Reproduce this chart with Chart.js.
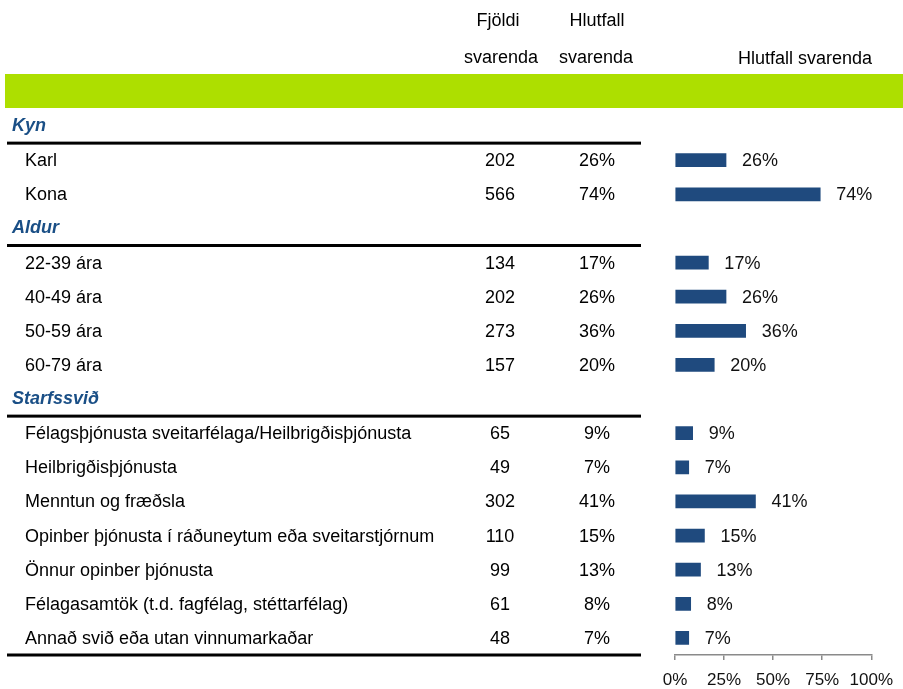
<!DOCTYPE html>
<html>
<head>
<meta charset="utf-8">
<script src="https://cdn.jsdelivr.net/npm/chart.js@4.4.0/dist/chart.umd.min.js"></script>
<style>
  body { margin: 0; background: #fff; }
  #wrap { width: 903px; height: 689px; }
</style>
</head>
<body>
<div id="wrap"><canvas id="chart" width="903" height="689"></canvas></div>
<script>
const rowLabels = [
  'Kyn', 'Karl', 'Kona',
  'Aldur', '22-39 ára', '40-49 ára', '50-59 ára', '60-79 ára',
  'Starfssvið',
  'Félagsþjónusta sveitarfélaga/Heilbrigðisþjónusta',
  'Heilbrigðisþjónusta',
  'Menntun og fræðsla',
  'Opinber þjónusta í ráðuneytum eða sveitarstjórnum',
  'Önnur opinber þjónusta',
  'Félagasamtök (t.d. fagfélag, stéttarfélag)',
  'Annað svið eða utan vinnumarkaðar'
];
const groupHeaders = ['Kyn', 'Aldur', 'Starfssvið'];
const counts = [null, 202, 566, null, 134, 202, 273, 157, null, 65, 49, 302, 110, 99, 61, 48];
const shares = [null, 26, 74, null, 17, 26, 36, 20, null, 9, 7, 41, 15, 13, 8, 7];
const axisTicks = [0, 25, 50, 75, 100];
const colHeaders = [['Fjöldi', 'svarenda'], ['Hlutfall', 'svarenda']];
const chartTitle = 'Hlutfall svarenda';

const FONT = "'Liberation Sans', Arial, sans-serif";
const BAR = '#1F4A7E';
const HEAD_BLUE = '#1A4F86';

// table on the left, green band, header lines
const tablePlugin = {
  id: 'table',
  beforeDraw(chart) {
    const ctx = chart.ctx;
    ctx.save();
    ctx.fillStyle = '#ADDF00';
    ctx.fillRect(5, 74, 898, 34);
    ctx.restore();
  },
  afterDraw(chart) {
    const ctx = chart.ctx;
    const y = chart.scales.y;
    const half = (y.getPixelForValue(1) - y.getPixelForValue(0)) / 2;
    ctx.save();
    ctx.textBaseline = 'middle';
    ctx.fillStyle = '#000';
    ctx.font = '18px ' + FONT;
    ctx.textAlign = 'center';
    ctx.fillText(colHeaders[0][0], 498, 21);
    ctx.fillText(colHeaders[0][1], 501, 58);
    ctx.fillText(colHeaders[1][0], 597, 21);
    ctx.fillText(colHeaders[1][1], 596, 58);
    ctx.fillText(chartTitle, 805, 59);

    rowLabels.forEach((lab, i) => {
      const py = y.getPixelForValue(i) + 1;
      if (groupHeaders.includes(lab)) {
        ctx.font = 'italic bold 18px ' + FONT;
        ctx.fillStyle = HEAD_BLUE;
        ctx.textAlign = 'left';
        ctx.fillText(lab, 12, py - 1);
        ctx.fillStyle = '#000';
        ctx.fillRect(7, py - 1 + half - 1.5, 634, 3);
      } else {
        ctx.font = '18px ' + FONT;
        ctx.fillStyle = '#000';
        ctx.textAlign = 'left';
        ctx.fillText(lab, 25, py);
        ctx.textAlign = 'center';
        ctx.fillText(String(counts[i]), 500, py);
        ctx.fillText(shares[i] + '%', 597, py);
      }
    });
    const last = y.getPixelForValue(rowLabels.length - 1);
    ctx.fillRect(7, last + half - 1.5, 634, 3);

    // value labels next to bars
    const meta = chart.getDatasetMeta(0);
    ctx.font = '18px ' + FONT;
    ctx.fillStyle = '#111';
    ctx.textAlign = 'left';
    meta.data.forEach((bar, i) => {
      if (shares[i] == null) return;
      ctx.fillText(shares[i] + '%', bar.x + 16, bar.y + 1);
    });
    ctx.restore();
  }
};

new Chart(document.getElementById('chart'), {
  type: 'bar',
  data: {
    labels: rowLabels,
    datasets: [{
      data: shares,
      backgroundColor: BAR,
      barThickness: 13
    }]
  },
  options: {
    indexAxis: 'y',
    responsive: false,
    animation: false,
    devicePixelRatio: 1,
    layout: { padding: { left: 675, right: 29, top: 109, bottom: 0 } },
    plugins: { legend: { display: false }, tooltip: { enabled: false } },
    scales: {
      y: { display: false },
      x: {
        min: 0,
        max: 100,
        afterFit(scale) { scale.height = 34; },
        afterBuildTicks(scale) { scale.ticks = axisTicks.map(v => ({ value: v })); },
        ticks: {
          callback: v => v + '%',
          color: '#111',
          padding: 10,
          font: { family: FONT, size: 17 },
          maxRotation: 0
        },
        grid: { drawOnChartArea: false, drawTicks: true, tickLength: 5, color: '#8a8a8a', lineWidth: 1.5 },
        border: { display: true, color: '#8a8a8a', width: 1.5 }
      }
    }
  },
  plugins: [tablePlugin]
});
</script>
</body>
</html>
